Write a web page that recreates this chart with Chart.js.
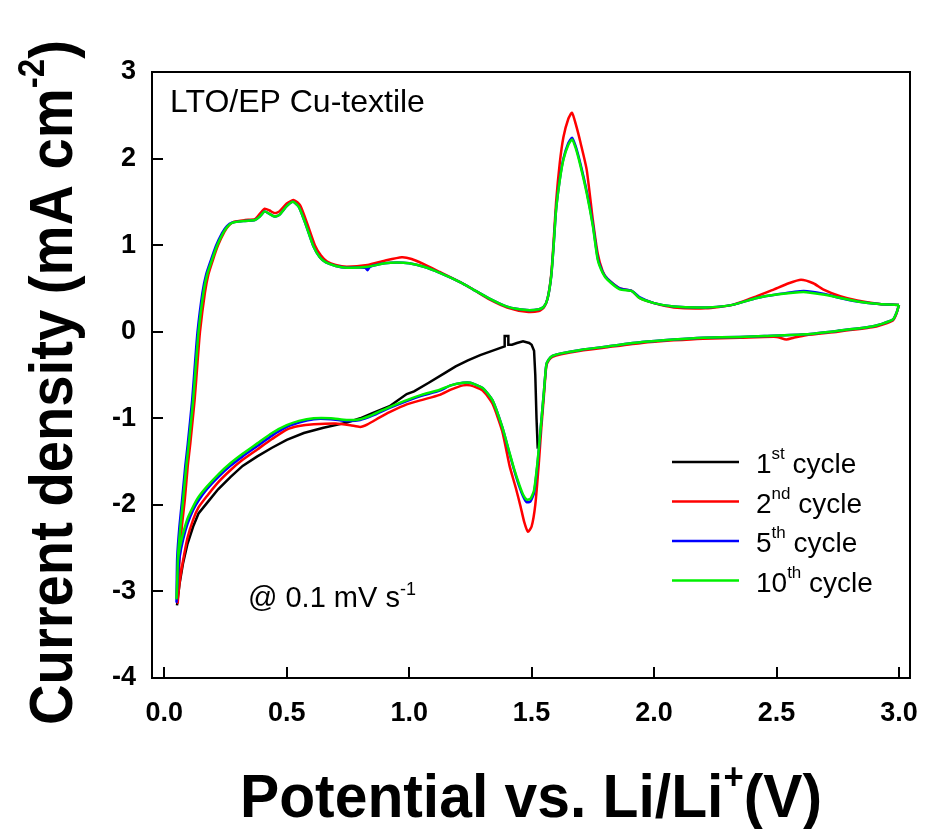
<!DOCTYPE html>
<html>
<head>
<meta charset="utf-8">
<script src="https://cdn.jsdelivr.net/npm/chart.js@4.4.0/dist/chart.umd.min.js"></script>
<style>
html, body { margin: 0; padding: 0; background: #fff; }
canvas { display: block; }
</style>
</head>
<body>
<canvas id="cv" width="925" height="829"></canvas>
<script>
// axis ticks
const xTicks = [0, 0.5, 1, 1.5, 2, 2.5, 3];
const yTicks = [-4, -3, -2, -1, 0, 1, 2, 3];

// legend parts
const cycleNums = ['1', '2', '5', '10'];
const cycleSups = ['st', 'nd', 'th', 'th'];
const cycleColors = ['#000000', '#ff0000', '#0000ff', '#00f000'];

// [potential (V), current density (mA cm-2)]
const cycle1 = [[1.525,-1.35],[1.52,-1.0],[1.515,-0.5],[1.51,-0.22],[1.50,-0.15],[1.49,-0.13],[1.465,-0.11],[1.44,-0.13],[1.42,-0.15],
  [1.405,-0.15],[1.405,-0.05],[1.39,-0.05],[1.39,-0.17],[1.37,-0.19],[1.33,-0.23],[1.29,-0.27],[1.24,-0.33],[1.19,-0.40],[1.15,-0.47],
  [1.08,-0.59],[1.02,-0.69],[0.99,-0.72],[0.92,-0.86],[0.85,-0.94],[0.80,-1.0],[0.745,-1.05],[0.65,-1.11],[0.57,-1.17],[0.50,-1.25],
  [0.44,-1.34],[0.38,-1.44],[0.32,-1.55],[0.27,-1.68],[0.22,-1.82],[0.174,-1.98],[0.14,-2.1],[0.118,-2.25],[0.095,-2.45],[0.077,-2.67],
  [0.062,-2.92],[0.052,-3.16]];

const cycle2 = [[3.0,0.31],[2.99,0.21],[2.975,0.13],[2.93,0.08],[2.89,0.05],[2.75,0.0],[2.62,-0.04],[2.57,-0.07],[2.54,-0.09],[2.50,-0.06],
  [2.35,-0.07],[2.2,-0.08],[2.08,-0.10],[1.95,-0.13],[1.81,-0.18],[1.70,-0.22],[1.62,-0.26],[1.585,-0.29],[1.57,-0.33],[1.56,-0.4],
  [1.55,-0.75],[1.54,-1.1],[1.53,-1.5],[1.515,-2.0],[1.50,-2.25],[1.485,-2.31],[1.47,-2.2],[1.455,-2.02],[1.435,-1.8],[1.41,-1.55],
  [1.38,-1.15],[1.34,-0.83],[1.30,-0.68],[1.25,-0.62],[1.22,-0.62],[1.17,-0.67],[1.125,-0.73],[1.05,-0.79],[0.99,-0.84],[0.92,-0.93],
  [0.88,-0.99],[0.83,-1.07],[0.80,-1.10],[0.76,-1.08],[0.70,-1.06],[0.61,-1.07],[0.55,-1.09],[0.50,-1.13],[0.44,-1.24],[0.38,-1.36],
  [0.32,-1.48],[0.27,-1.6],[0.22,-1.74],[0.174,-1.9],[0.14,-2.03],[0.118,-2.17],[0.095,-2.38],[0.077,-2.64],[0.065,-2.85],[0.058,-3.02],
  [0.055,-3.13],
  [0.058,-2.9],[0.063,-2.6],[0.072,-2.25],[0.084,-1.94],[0.096,-1.55],[0.106,-1.3],[0.124,-0.79],[0.136,-0.35],[0.146,0.0],[0.166,0.45],
  [0.18,0.66],[0.20,0.84],[0.22,1.0],[0.245,1.15],[0.265,1.23],[0.285,1.27],[0.33,1.29],[0.37,1.30],[0.39,1.36],[0.41,1.42],[0.43,1.40],
  [0.45,1.37],[0.47,1.39],[0.50,1.48],[0.53,1.52],[0.555,1.46],[0.585,1.24],[0.615,1.0],[0.64,0.88],[0.665,0.81],[0.70,0.77],[0.745,0.75],
  [0.83,0.77],[0.90,0.82],[0.97,0.86],[1.01,0.84],[1.06,0.78],[1.125,0.69],[1.21,0.57],[1.26,0.49],[1.33,0.37],[1.40,0.28],[1.48,0.23],
  [1.53,0.24],[1.55,0.28],[1.565,0.38],[1.58,0.66],[1.59,1.05],[1.60,1.5],[1.615,1.95],[1.63,2.25],[1.65,2.46],[1.665,2.53],[1.68,2.40],
  [1.70,2.18],[1.725,1.87],[1.75,1.29],[1.77,0.9],[1.79,0.70],[1.81,0.61],[1.86,0.50],[1.91,0.47],[1.94,0.39],[2.0,0.33],[2.08,0.28],
  [2.21,0.27],[2.32,0.31],[2.42,0.41],[2.49,0.49],[2.55,0.56],[2.60,0.60],[2.65,0.56],[2.69,0.49],[2.76,0.41],[2.83,0.36],[2.92,0.32],
  [3.0,0.31]];

const cycle5 = [[3.0,0.31],[2.99,0.22],[2.975,0.14],[2.93,0.09],[2.89,0.06],[2.75,0.01],[2.62,-0.03],[2.45,-0.05],[2.35,-0.06],[2.2,-0.07],
  [2.08,-0.09],[1.95,-0.12],[1.81,-0.17],[1.70,-0.21],[1.62,-0.25],[1.585,-0.28],[1.57,-0.32],[1.56,-0.38],[1.55,-0.7],[1.54,-1.02],
  [1.525,-1.5],[1.51,-1.86],[1.495,-1.96],[1.48,-1.97],[1.465,-1.9],[1.45,-1.79],[1.43,-1.61],[1.41,-1.41],[1.38,-1.10],[1.34,-0.79],
  [1.30,-0.65],[1.25,-0.59],[1.22,-0.59],[1.17,-0.62],[1.125,-0.68],[1.05,-0.74],[0.99,-0.80],[0.92,-0.88],[0.85,-0.97],[0.80,-1.02],
  [0.745,-1.03],[0.68,-1.01],[0.61,-1.01],[0.55,-1.05],[0.50,-1.10],[0.44,-1.2],[0.38,-1.32],[0.32,-1.44],[0.27,-1.55],[0.22,-1.68],
  [0.174,-1.82],[0.14,-1.95],[0.118,-2.06],[0.095,-2.22],[0.077,-2.4],[0.063,-2.6],[0.056,-2.8],[0.052,-3.0],[0.05,-3.12],
  [0.051,-2.9],[0.053,-2.6],[0.062,-2.25],[0.073,-1.94],[0.086,-1.55],[0.096,-1.3],[0.114,-0.79],[0.126,-0.35],[0.136,0.0],[0.156,0.45],
  [0.171,0.66],[0.191,0.83],[0.211,0.99],[0.236,1.14],[0.256,1.22],[0.276,1.26],[0.33,1.28],[0.37,1.29],[0.39,1.33],[0.41,1.39],[0.43,1.36],
  [0.45,1.33],[0.47,1.35],[0.50,1.45],[0.526,1.50],[0.55,1.44],[0.58,1.22],[0.61,0.98],[0.635,0.86],[0.66,0.80],[0.70,0.76],[0.745,0.74],
  [0.82,0.74],[0.83,0.71],[0.84,0.75],[0.90,0.79],[0.95,0.80],[1.00,0.79],[1.06,0.75],[1.125,0.68],[1.21,0.57],[1.26,0.49],[1.33,0.38],
  [1.40,0.29],[1.48,0.25],[1.53,0.26],[1.55,0.29],[1.565,0.38],[1.58,0.64],[1.59,1.0],[1.60,1.41],[1.615,1.76],[1.63,2.0],[1.65,2.18],
  [1.665,2.24],[1.68,2.14],[1.70,1.93],[1.725,1.62],[1.75,1.24],[1.77,0.85],[1.79,0.69],[1.81,0.61],[1.86,0.50],[1.91,0.47],[1.94,0.40],
  [2.0,0.33],[2.08,0.29],[2.21,0.28],[2.32,0.31],[2.42,0.39],[2.5,0.43],[2.61,0.47],[2.69,0.44],[2.76,0.39],[2.83,0.35],[2.92,0.32],
  [3.0,0.31]];

const cycle10 = [[3.0,0.31],[2.99,0.22],[2.975,0.14],[2.93,0.09],[2.89,0.06],[2.75,0.01],[2.62,-0.03],[2.45,-0.05],[2.35,-0.06],[2.2,-0.07],
  [2.08,-0.09],[1.95,-0.12],[1.81,-0.17],[1.70,-0.21],[1.62,-0.25],[1.585,-0.28],[1.57,-0.32],[1.56,-0.38],[1.55,-0.7],[1.54,-1.02],
  [1.525,-1.48],[1.51,-1.83],[1.495,-1.93],[1.48,-1.94],[1.465,-1.88],[1.45,-1.77],[1.43,-1.6],[1.41,-1.40],[1.38,-1.10],[1.34,-0.79],
  [1.30,-0.65],[1.25,-0.59],[1.22,-0.59],[1.17,-0.62],[1.125,-0.67],[1.05,-0.73],[0.99,-0.79],[0.92,-0.87],[0.85,-0.96],[0.80,-1.01],
  [0.745,-1.02],[0.68,-1.0],[0.61,-1.0],[0.55,-1.03],[0.50,-1.08],[0.44,-1.17],[0.38,-1.29],[0.32,-1.41],[0.27,-1.52],[0.22,-1.65],
  [0.174,-1.79],[0.14,-1.91],[0.118,-2.02],[0.095,-2.16],[0.077,-2.33],[0.063,-2.5],[0.056,-2.64],[0.052,-2.95],[0.05,-3.08],
  [0.053,-2.9],[0.056,-2.6],[0.066,-2.25],[0.077,-1.94],[0.09,-1.55],[0.10,-1.3],[0.118,-0.79],[0.13,-0.35],[0.14,0.0],[0.16,0.45],
  [0.175,0.66],[0.195,0.83],[0.215,0.99],[0.24,1.14],[0.26,1.22],[0.28,1.26],[0.33,1.28],[0.37,1.29],[0.39,1.33],[0.41,1.39],[0.43,1.36],
  [0.45,1.33],[0.47,1.35],[0.50,1.45],[0.526,1.50],[0.55,1.44],[0.58,1.22],[0.61,0.98],[0.635,0.86],[0.66,0.80],[0.70,0.76],[0.745,0.74],
  [0.83,0.75],[0.90,0.79],[0.95,0.80],[1.00,0.79],[1.06,0.75],[1.125,0.68],[1.21,0.57],[1.26,0.49],[1.33,0.38],[1.40,0.29],[1.48,0.25],
  [1.53,0.26],[1.55,0.29],[1.565,0.38],[1.58,0.64],[1.59,1.0],[1.60,1.41],[1.615,1.75],[1.63,1.99],[1.65,2.16],[1.665,2.22],[1.68,2.12],
  [1.70,1.91],[1.725,1.6],[1.75,1.22],[1.77,0.83],[1.79,0.68],[1.81,0.60],[1.86,0.49],[1.91,0.47],[1.94,0.39],[2.0,0.33],[2.08,0.29],
  [2.21,0.28],[2.32,0.31],[2.42,0.39],[2.5,0.43],[2.61,0.46],[2.69,0.43],[2.76,0.39],[2.83,0.35],[2.92,0.32],[3.0,0.31]];

const series = [cycle1, cycle2, cycle5, cycle10];

const FONT = "'Liberation Sans', Arial, sans-serif";

// draws a run of text pieces, some raised as superscripts; returns width
function drawRuns(ctx, runs, x, y, measureOnly) {
    let w = 0;
    runs.forEach(r => {
        ctx.font = (r.bold ? 'bold ' : '') + r.size + 'px ' + FONT;
        if (!measureOnly) ctx.fillText(r.t, x + w, y - (r.up || 0));
        w += ctx.measureText(r.t).width;
    });
    return w;
}

const framePlugin = {
    id: 'frame',
    afterDatasetsDraw(chart) {
        const ctx = chart.ctx;
        const a = chart.chartArea;
        const xs = chart.scales.x, ys = chart.scales.y;
        ctx.save();
        ctx.strokeStyle = '#000';
        ctx.lineWidth = 2;
        ctx.strokeRect(a.left, a.top, a.right - a.left, a.bottom - a.top);
        ctx.beginPath();
        xTicks.forEach(v => {
            const px = Math.round(xs.getPixelForValue(v));
            ctx.moveTo(px, a.bottom);
            ctx.lineTo(px, a.bottom - 11);
        });
        yTicks.forEach(v => {
            const py = Math.round(ys.getPixelForValue(v));
            ctx.moveTo(a.left, py);
            ctx.lineTo(a.left + 11, py);
        });
        ctx.stroke();
        ctx.restore();
    }
};

const textPlugin = {
    id: 'texts',
    afterDraw(chart) {
        const ctx = chart.ctx;
        ctx.save();
        ctx.fillStyle = '#000';
        ctx.textBaseline = 'alphabetic';
        ctx.textAlign = 'left';

        // annotations
        drawRuns(ctx, [{t: 'LTO/EP Cu-textile', size: 32}], 170, 112);
        drawRuns(ctx, [{t: '@ 0.1 mV s', size: 29}, {t: '-1', size: 18, up: 12}], 248, 607);

        // legend
        chart.data.datasets.forEach((ds, i) => {
            const y = 462 + i * 39.5;
            ctx.strokeStyle = ds.borderColor;
            ctx.lineWidth = 2.5;
            ctx.beginPath();
            ctx.moveTo(672, y);
            ctx.lineTo(739, y);
            ctx.stroke();
            drawRuns(ctx, [{t: cycleNums[i], size: 28}, {t: cycleSups[i], size: 17, up: 14}, {t: ' cycle', size: 28}], 756, y + 11);
        });

        // x axis title
        const xRuns = [{t: 'Potential vs. Li/Li', size: 61, bold: true}, {t: '+', size: 36, bold: true, up: 28}, {t: '(V)', size: 61, bold: true}];
        let w = drawRuns(ctx, xRuns, 0, 0, true);
        ctx.save();
        ctx.translate(240, 817);
        ctx.scale(582 / w, 1);
        drawRuns(ctx, xRuns, 0, 0);
        ctx.restore();

        // y axis title
        const yRuns = [{t: 'Current density (mA cm', size: 61, bold: true}, {t: '-2', size: 36, bold: true, up: 28}, {t: ')', size: 61, bold: true}];
        w = drawRuns(ctx, yRuns, 0, 0, true);
        ctx.save();
        ctx.translate(72, 725);
        ctx.rotate(-Math.PI / 2);
        ctx.scale(685 / w, 1);
        drawRuns(ctx, yRuns, 0, 0);
        ctx.restore();

        ctx.restore();
    }
};

const tickFont = {family: FONT, size: 27, weight: 'bold'};

new Chart(document.getElementById('cv'), {
    type: 'scatter',
    data: {
        datasets: series.map((s, i) => ({
            label: cycleNums[i] + cycleSups[i] + ' cycle',
            data: s.map(p => ({x: p[0], y: p[1]})),
            borderColor: cycleColors[i],
            backgroundColor: cycleColors[i],
            borderWidth: 2.5,
            pointRadius: 0,
            showLine: true,
            fill: false,
            tension: i === 0 ? 0 : 0.2,
            order: 3 - i
        }))
    },
    options: {
        responsive: false,
        animation: false,
        devicePixelRatio: 1,
        layout: {padding: {left: 0, right: 15, top: 72, bottom: 0}},
        plugins: {legend: {display: false}, tooltip: {enabled: false}},
        scales: {
            x: {
                type: 'linear',
                min: -0.05,
                max: 3.045,
                afterBuildTicks: s => { s.ticks = xTicks.map(v => ({value: v})); },
                afterFit: s => { s.height = 151; s.paddingLeft = 0; s.paddingRight = 0; },
                ticks: {callback: v => v.toFixed(1), font: tickFont, color: '#000', padding: 19, maxRotation: 0, autoSkip: false},
                grid: {display: false, drawTicks: false},
                border: {display: false}
            },
            y: {
                type: 'linear',
                min: -4,
                max: 3,
                afterBuildTicks: s => { s.ticks = yTicks.map(v => ({value: v})); },
                afterFit: s => { s.width = 152; s.paddingTop = 0; s.paddingBottom = 0; },
                ticks: {callback: v => String(v), font: tickFont, color: '#000', padding: 16, autoSkip: false},
                grid: {display: false, drawTicks: false},
                border: {display: false}
            }
        }
    },
    plugins: [framePlugin, textPlugin]
});
</script>
</body>
</html>
